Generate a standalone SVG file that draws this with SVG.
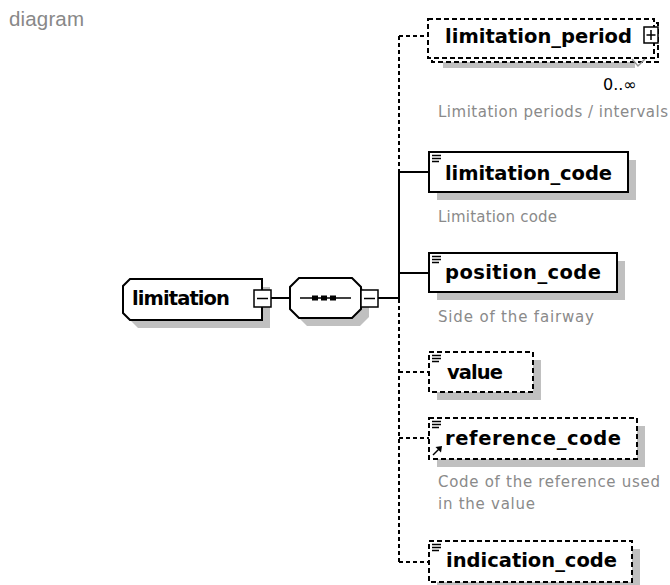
<svg xmlns="http://www.w3.org/2000/svg" width="670" height="585" viewBox="0 0 670 585">
<style>
.box{fill:#fff;stroke:#000;stroke-width:2}
.dbox{fill:#fff;stroke:#000;stroke-width:2;stroke-dasharray:5 3}
.shadow{fill:#c0c0c0}
.lbl{font-family:"DejaVu Sans",Verdana,sans-serif;font-weight:bold;font-size:19.5px;fill:#000}
.desc{font-family:"DejaVu Sans",Verdana,sans-serif;font-size:15px;fill:#8a8a8a}
.con{stroke:#000;stroke-width:2;fill:none}
.dcon{stroke:#000;stroke-width:2;fill:none;stroke-dasharray:4 3}
.pm{fill:#fff;stroke:#000;stroke-width:1.5}
.ic{stroke:#000;stroke-width:1.5}
</style>
<defs>
<g id="ico"><line class="ic" x1="0" y1="0" x2="9" y2="0"/><line class="ic" x1="0" y1="3" x2="9" y2="3"/><line class="ic" x1="0" y1="6" x2="7" y2="6"/></g>
</defs>
<text x="9" y="26" font-family="Liberation Sans,Arial,sans-serif" font-size="20.5" fill="#888" textLength="75">diagram</text>

<g id="connectors">
<line class="con" x1="271" y1="298" x2="290" y2="298"/>
<line class="con" x1="378" y1="298" x2="399" y2="298"/>
<line class="con" x1="399" y1="172" x2="399" y2="299"/>
<line class="dcon" x1="399" y1="36" x2="399" y2="172"/>
<line class="dcon" x1="399" y1="299" x2="399" y2="562"/>
<line class="dcon" x1="399" y1="36" x2="428" y2="36"/>
<line class="con" x1="399" y1="172" x2="429" y2="172"/>
<line class="con" x1="399" y1="273" x2="429" y2="273"/>
<line class="dcon" x1="399" y1="372" x2="429" y2="372"/>
<line class="dcon" x1="399" y1="438" x2="429" y2="438"/>
<line class="dcon" x1="399" y1="562" x2="429" y2="562"/>
</g>

<g id="limitation">
<path class="shadow" d="M138,287 L270,287 L270,328 L138,328 L131,321 L131,294 Z"/>
<path class="box" d="M130,279 L262,279 L262,320 L130,320 L123,313 L123,286 Z"/>
<text class="lbl" x="132" y="305" textLength="98">limitation</text>
<rect class="pm" x="254" y="290" width="17" height="17"/>
<line class="ic" x1="257" y1="298.5" x2="268" y2="298.5"/>
</g>

<g id="sequence">
<path class="shadow" d="M307,286 L360,286 L369,295 L369,317 L360,326 L307,326 L298,317 L298,295 Z"/>
<path class="box" d="M299,278 L352,278 L361,287 L361,309 L352,318 L299,318 L290,309 L290,287 Z"/>
<line class="ic" x1="300" y1="298" x2="351" y2="298"/>
<rect x="312" y="295.5" width="6" height="5"/>
<rect x="321" y="295.5" width="6" height="5"/>
<rect x="330" y="295.5" width="6" height="5"/>
<rect class="pm" x="361" y="290" width="17" height="17"/>
<line class="ic" x1="364" y1="298.5" x2="375" y2="298.5"/>
</g>

<g id="limitation_period">
<rect class="shadow" x="443" y="62" width="192" height="6"/>
<rect class="dbox" x="432" y="23" width="226" height="39"/>
<rect class="dbox" x="428" y="19" width="226" height="39"/>
<text class="lbl" x="445" y="43" textLength="187">limitation_period</text>
<rect class="pm" x="644" y="27" width="14" height="16"/>
<line class="ic" x1="646.5" y1="35" x2="655.5" y2="35"/>
<line class="ic" x1="651" y1="30" x2="651" y2="40"/>
<polyline points="632,59 638,66 645,59" fill="none" stroke="#999" stroke-width="1.5"/>
<text x="603" y="90" font-family="DejaVu Sans,Verdana,sans-serif" font-size="16" fill="#000">0..∞</text>
<text class="desc" x="438" y="117" textLength="230">Limitation periods / intervals</text>
</g>

<g id="limitation_code">
<rect class="shadow" x="437" y="160" width="199" height="40"/>
<rect class="box" x="429" y="152" width="199" height="40"/>
<use href="#ico" x="432" y="155.5"/>
<text class="lbl" x="445" y="180" textLength="167">limitation_code</text>
<text class="desc" x="438" y="222" textLength="119">Limitation code</text>
</g>

<g id="position_code">
<rect class="shadow" x="437" y="261" width="188" height="39"/>
<rect class="box" x="429" y="253" width="188" height="39"/>
<use href="#ico" x="432" y="256.5"/>
<text class="lbl" x="445" y="279" textLength="156">position_code</text>
<text class="desc" x="438" y="322" textLength="156">Side of the fairway</text>
</g>

<g id="value">
<rect class="shadow" x="437" y="360" width="104" height="40"/>
<rect class="dbox" x="429" y="352" width="104" height="40"/>
<use href="#ico" x="432" y="355.5"/>
<text class="lbl" x="447" y="379" textLength="56">value</text>
</g>

<g id="reference_code">
<rect class="shadow" x="437" y="426" width="208" height="41"/>
<rect class="dbox" x="429" y="418" width="208" height="41"/>
<use href="#ico" x="432" y="421.5"/>
<line class="ic" x1="433" y1="455" x2="440" y2="448"/>
<polygon points="442,446 435.5,447 441,452.5"/>
<text class="lbl" x="445" y="445" textLength="176">reference_code</text>
<text class="desc" x="438" y="487" textLength="222">Code of the reference used</text>
<text class="desc" x="438" y="509" textLength="97">in the value</text>
</g>

<g id="indication_code">
<rect class="shadow" x="437" y="549" width="203" height="41"/>
<rect class="dbox" x="429" y="541" width="203" height="41"/>
<use href="#ico" x="432" y="544.5"/>
<text class="lbl" x="446" y="567" textLength="171">indication_code</text>
</g>
</svg>
